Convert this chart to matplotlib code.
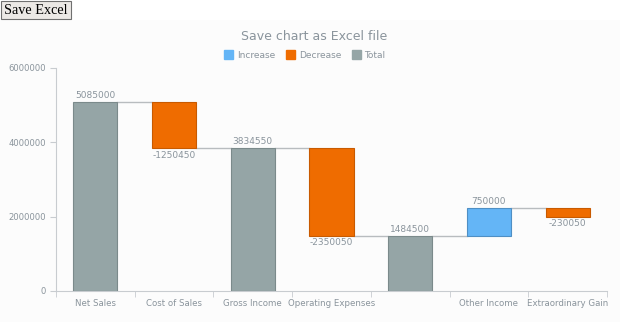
import matplotlib
matplotlib.use("Agg")
import matplotlib.pyplot as plt
from matplotlib.patches import Rectangle, Patch

categories = ["Net Sales", "Cost of Sales", "Gross Income", "Operating Expenses", "", "Other Income", "Extraordinary Gain"]
values = [5085000, -1250450, 3834550, -2350050, 1484500, 750000, -230050]
kinds = ["total", "decrease", "total", "decrease", "total", "increase", "decrease"]
yticks = [0, 2000000, 4000000, 6000000]

fill = {"increase": "#64b5f6", "decrease": "#ef6c00", "total": "#95a5a6"}
edge = {"increase": "#4f8fc4", "decrease": "#c85a00", "total": "#7b8a8b"}
txt = "#8a949c"

W, H = 620, 322
fig = plt.figure(figsize=(W/100, H/100), dpi=100)
fig.patch.set_facecolor("white")
fig.add_artist(Rectangle((0, 0), 1, (H-20)/H, transform=fig.transFigure, facecolor="#fcfcfc", edgecolor="none", zorder=0))

# Save Excel button
fig.add_artist(Rectangle((1/W, (H-19)/H), 70/W, 18/H, transform=fig.transFigure, facecolor="#ece9e6", edgecolor="#707070", lw=0.8, zorder=1))
fig.text(36/W, (H-10)/H, "Save Excel", ha="center", va="center", fontsize=10.3, family="Liberation Serif", color="black")

ax = fig.add_axes([56/W, 31/H, (607-56)/W, (291-68)/H])
ax.set_facecolor("none")

bw = 0.56
running = 0
for i, (v, k) in enumerate(zip(values, kinds)):
    if k == "total":
        b, t = 0, v
        running = v
    else:
        start = running
        running = start + v
        b, t = min(start, running), max(start, running)
    ax.bar(i, t - b, bottom=b, width=bw, color=fill[k], edgecolor=edge[k], linewidth=0.8, zorder=3)
    if k == "decrease":
        ax.text(i, b - 60000, f"{v}", ha="center", va="top", fontsize=6.5, color=txt)
    else:
        ax.text(i, t + 60000, f"{v}", ha="center", va="bottom", fontsize=6.5, color=txt)

# connectors
running = 0
levels = []
for v, k in zip(values, kinds):
    running = v if k == "total" else running + v
    levels.append(running)
for i in range(len(values) - 1):
    ax.plot([i + bw/2, i + 1 - bw/2], [levels[i], levels[i]], color="#b8bcbf", lw=1.0, zorder=2)

ax.set_xlim(-0.5, len(categories) - 0.5)
ax.set_ylim(0, 6000000)
ax.set_yticks(yticks)
ax.set_yticklabels([str(t) for t in yticks])
ax.set_xticks(range(len(categories)))
ax.set_xticklabels(categories)
ax.set_xticks([i - 0.5 for i in range(len(categories) + 1)], minor=True)
ax.tick_params(axis="x", which="major", length=0, labelsize=6.2, labelcolor=txt, pad=6)
ax.tick_params(axis="x", which="minor", length=4, color="#c8ccd0")
ax.tick_params(axis="y", length=4, color="#c8ccd0", labelsize=6.1, labelcolor=txt, pad=3)
for s in ["top", "right"]:
    ax.spines[s].set_visible(False)
for s in ["left", "bottom"]:
    ax.spines[s].set_color("#c8ccd0")
    ax.spines[s].set_linewidth(0.8)

fig.text(314/W, (H-36)/H, "Save chart as Excel file", ha="center", va="center", fontsize=9, color=txt)
handles = [Patch(facecolor=fill[k], edgecolor=fill[k]) for k in ["increase", "decrease", "total"]]
fig.legend(handles, ["Increase", "Decrease", "Total"], loc="center", bbox_to_anchor=(305/W, (H-55)/H),
           ncol=3, frameon=False, fontsize=6.5, labelcolor=txt, handlelength=1.0, handleheight=1.0,
           handletextpad=0.4, columnspacing=1.2)

fig.savefig("out.png", dpi=100)
